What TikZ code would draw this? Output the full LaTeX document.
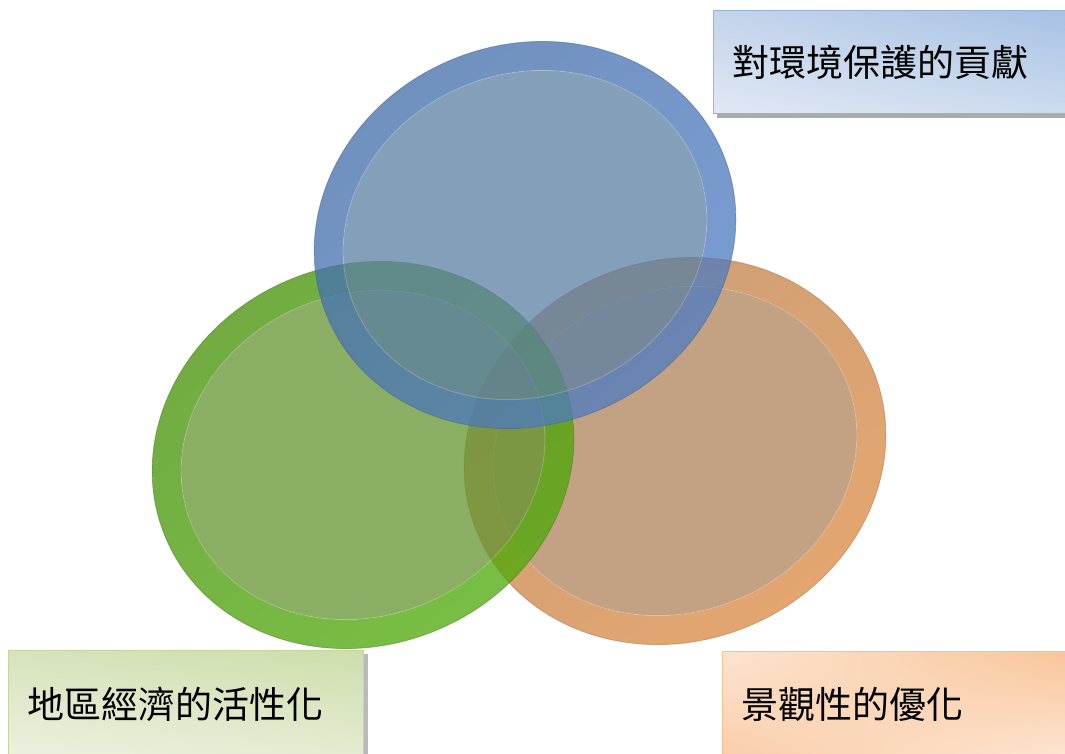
\documentclass[tikz,border=0pt]{standalone}
\usepackage{fontspec}
\newfontfamily\cjk{Noto Sans CJK TC}
\usetikzlibrary{shadows,shadings}
\definecolor{bRimA}{RGB}{62,104,162}
\definecolor{bRimB}{RGB}{82,130,205}
\definecolor{bFace}{RGB}{91,127,162}
\definecolor{bEdge}{RGB}{70,100,150}
\definecolor{gRimA}{RGB}{64,138,4}
\definecolor{gRimB}{RGB}{80,178,6}
\definecolor{gFace}{RGB}{99,148,48}
\definecolor{gEdge}{RGB}{75,125,35}
\definecolor{oRimA}{RGB}{180,124,76}
\definecolor{oRimB}{RGB}{230,140,62}
\definecolor{oFace}{RGB}{176,131,90}
\definecolor{oEdge}{RGB}{175,115,65}
\definecolor{b1ul}{RGB}{196,212,235}
\definecolor{b1ur}{RGB}{166,193,228}
\definecolor{b1ll}{RGB}{224,232,244}
\definecolor{b1lr}{RGB}{205,219,238}
\definecolor{b1bd}{RGB}{149,179,215}
\definecolor{b2ul}{RGB}{214,227,188}
\definecolor{b2ur}{RGB}{206,222,172}
\definecolor{b2ll}{RGB}{236,241,224}
\definecolor{b2lr}{RGB}{228,236,210}
\definecolor{b2bd}{RGB}{195,214,155}
\definecolor{b3ul}{RGB}{253,228,208}
\definecolor{b3ur}{RGB}{248,196,152}
\definecolor{b3ll}{RGB}{250,206,170}
\definecolor{b3lr}{RGB}{253,230,212}
\definecolor{b3bd}{RGB}{250,191,143}
\newcommand\drawdisc[6]{%
  \begin{scope}[shift={(#1,#2)}, rotate=22]
    \shade[even odd rule, opacity=0.75, upper left=#3, upper right=#3!50!#4,
           lower left=#3!50!#4, lower right=#4]
      (0,0) ellipse [x radius=214, y radius=190]
      (0,0) ellipse [x radius=185, y radius=161];
    \fill[#5, opacity=0.75] (0,0) ellipse [x radius=185, y radius=161];
    \draw[#6, line width=0.8pt, opacity=0.5] (0,0) ellipse [x radius=214, y radius=190];
    \draw[white, line width=1pt, opacity=0.18] (0,0) ellipse [x radius=185, y radius=161];
  \end{scope}}
\begin{document}
\begin{tikzpicture}[x=1pt,y=-1pt,
  lbl/.style={font=\cjk\fontsize{37}{41}\selectfont, text=black, anchor=north west,
    align=left, inner xsep=19pt, inner ysep=0pt, line width=1pt},
  boxA/.style={lbl, shade, upper left=b1ul, upper right=b1ur, lower left=b1ll, lower right=b1lr,
    draw=b1bd, drop shadow={shadow xshift=3pt, shadow yshift=-4pt, fill=black!55, opacity=0.6}},
  boxB/.style={lbl, shade, upper left=b2ul, upper right=b2ur, lower left=b2ll, lower right=b2lr,
    draw=b2bd, drop shadow={shadow xshift=4pt, shadow yshift=-3pt, fill=black!45, opacity=0.6}},
  boxC/.style={lbl, shade, upper left=b3ul, upper right=b3ur, lower left=b3ll, lower right=b3lr,
    draw=b3bd}]
\useasboundingbox (0,0) rectangle (1065,753);
\clip (0,0) rectangle (1065,753);
\fill[white] (0,0) rectangle (1065,753);
% discs: orange (bottom), green, blue (top)
\drawdisc{675}{451}{oRimA}{oRimB}{oFace}{oEdge}
\drawdisc{363}{455}{gRimA}{gRimB}{gFace}{gEdge}
\drawdisc{525}{235}{bRimA}{bRimB}{bFace}{bEdge}
% labels
\node[boxA, minimum width=362pt, minimum height=103pt, text width=324pt] (env) at (713,10) {對環境保護的貢獻};
\node[boxB, minimum width=355pt, minimum height=107pt, text width=317pt] (eco) at (8,650) {地區經濟的活性化};
\node[boxC, minimum width=355pt, minimum height=106pt, text width=317pt] (view) at (722,651) {景觀性的優化};
\end{tikzpicture}
\end{document}
